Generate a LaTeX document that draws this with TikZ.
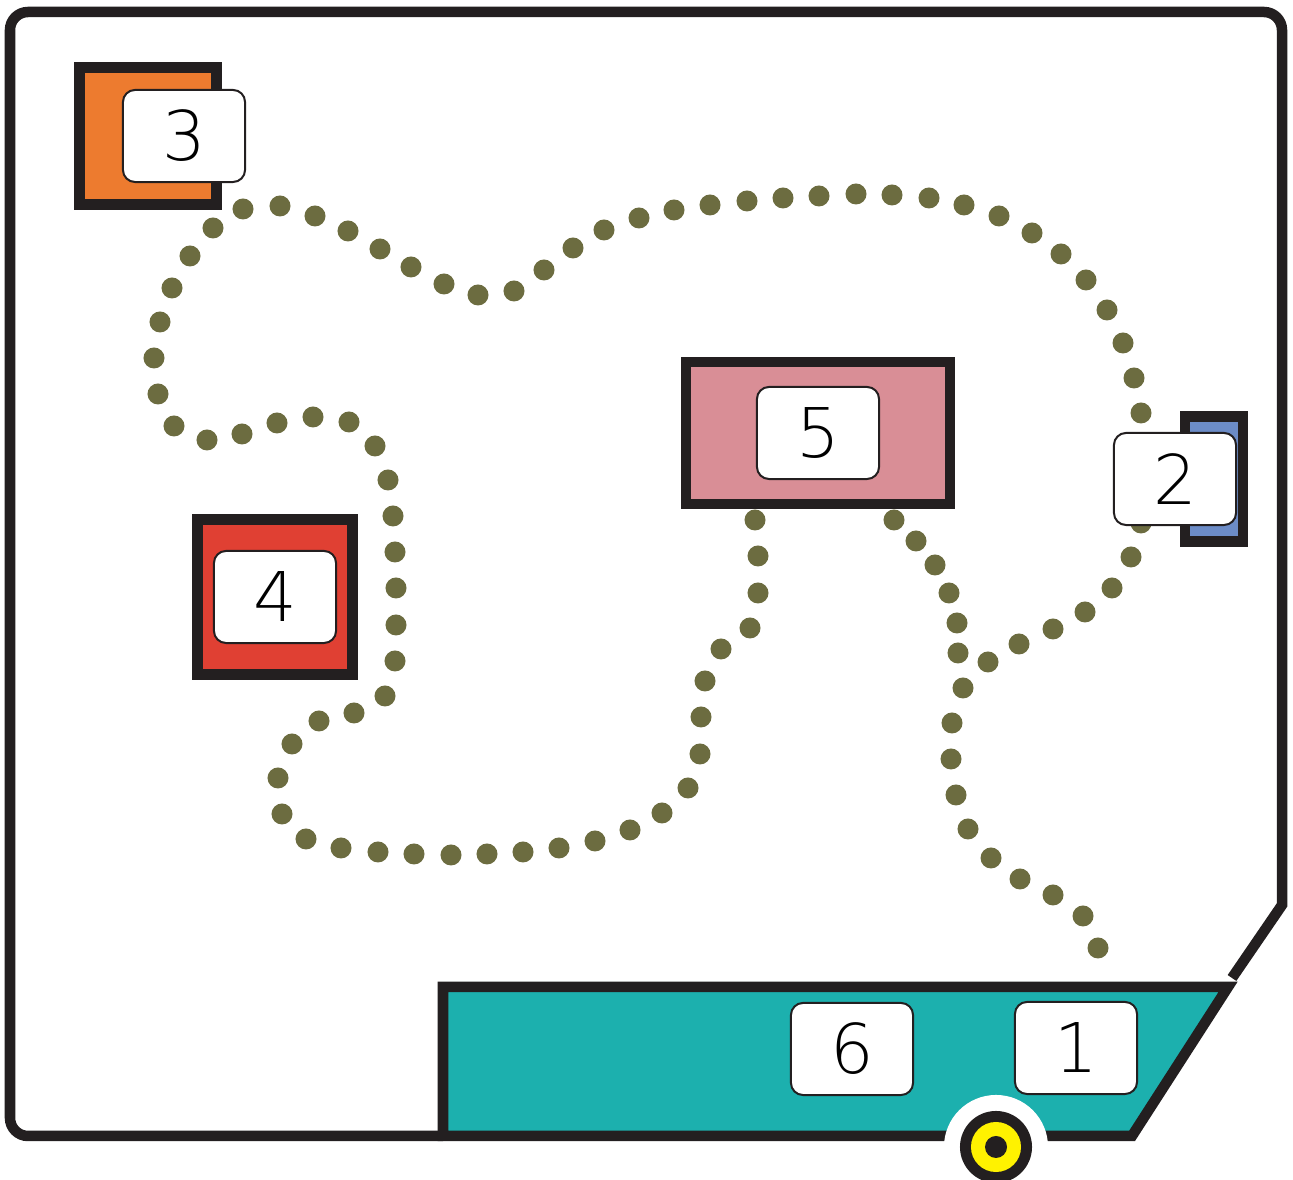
\documentclass[tikz,border=0pt]{standalone}
\usepackage{fontspec}
\usepackage{tikz}
\newfontfamily\numfont{DejaVu Sans ExtraLight}
\definecolor{ink}{RGB}{35,31,32}
\definecolor{dotgreen}{RGB}{108,108,64}
\definecolor{orangebin}{RGB}{237,123,47}
\definecolor{redbin}{RGB}{224,64,51}
\definecolor{pinkbin}{RGB}{217,142,150}
\definecolor{bluebin}{RGB}{108,140,199}
\definecolor{trailerteal}{RGB}{28,176,174}
\definecolor{wheelyellow}{RGB}{255,242,0}

\begin{document}
\begin{tikzpicture}[x = 0.01cm, y = -0.01cm, line width = 0.105cm,
                        bin/.style = {rectangle, draw = ink, inner sep = 0},
                        tag/.style = {rectangle, draw = ink, fill = white, line width = 0.02cm,
                                      rounded corners = 0.12cm, minimum width = 1.22cm,
                                      minimum height = 0.92cm, inner sep = 0,
                                      font = \numfont\fontsize{19.5}{20}\selectfont},
                        dot/.style = {fill = dotgreen}]
      \useasboundingbox (0, 0) rectangle (1293, 1180);

      \draw [ink, rounded corners = 0.18cm] (443, 1136) -- (10, 1136) -- (10, 12) -- (1282, 12)
            [sharp corners] -- (1282, 905) -- (1232, 978);

      \foreach \x/\y in {755/520, 758/556, 758/593, 750/628, 721/649, 705/681, 701/717, 700/754,
                         688/788, 662/813, 630/830, 595/841, 559/848, 523/852, 487/854, 451/855,
                         414/854, 378/852, 341/848, 306/839, 282/814, 278/778, 292/744, 319/721,
                         354/713, 385/696, 395/661, 396/625, 396/588, 395/552, 393/516, 388/480,
                         375/446, 349/422, 313/417, 277/423, 242/434, 207/440, 174/426, 158/394,
                         154/358, 160/322, 172/288, 190/256, 213/228, 243/209, 280/206, 315/216,
                         348/231, 380/249, 411/267, 444/284, 478/295, 514/291, 544/270, 573/248,
                         604/230, 639/218, 674/210, 710/205, 747/201, 783/198, 819/196, 856/194,
                         892/195, 929/198, 964/205, 999/216, 1032/233, 1061/254, 1086/280,
                         1107/310, 1123/343, 1134/378, 1141/413, 1141/523, 1131/557, 1112/588,
                         1085/612, 1053/629, 1019/644, 988/662}
        \fill [dot] (\x, \y) circle (0.105cm);
      \foreach \x/\y in {894/520, 916/541, 935/565, 949/593, 957/623, 958/653, 963/688, 952/723,
                         951/759, 956/795, 968/829, 991/858, 1020/879, 1053/895, 1083/916, 1098/948}
        \fill [dot] (\x, \y) circle (0.105cm);

      \node [bin, fill = orangebin, minimum width = 1.37cm, minimum height = 1.37cm] (bin3) at (148, 136){};
      \node [bin, fill = redbin, minimum width = 1.55cm, minimum height = 1.55cm] (bin4) at (275, 597){};
      \node [bin, fill = pinkbin, minimum width = 2.64cm, minimum height = 1.42cm] (bin5) at (818, 433){};
      \node [bin, fill = bluebin, minimum width = 0.58cm, minimum height = 1.25cm] (bin2) at (1214, 479){};

      \draw [ink, fill = trailerteal] (443, 987) -- (1228, 987) -- (1132, 1136) -- (443, 1136) -- cycle;
      \coordinate (wheel) at (996, 1147);
      \fill [white] (wheel) circle (0.52cm);
      \fill [ink] (wheel) circle (0.36cm);
      \fill [wheelyellow] (wheel) circle (0.25cm);
      \fill [ink] (wheel) circle (0.11cm);

      \node [tag] (tag3) at (184, 136){3};
      \node [tag] (tag4) at (275, 597){4};
      \node [tag] (tag5) at (818, 433){5};
      \node [tag] (tag2) at (1175, 479){2};
      \node [tag] (tag6) at (852, 1049){6};
      \node [tag] (tag1) at (1076, 1048){1};
      \end{tikzpicture}
\end{document}
